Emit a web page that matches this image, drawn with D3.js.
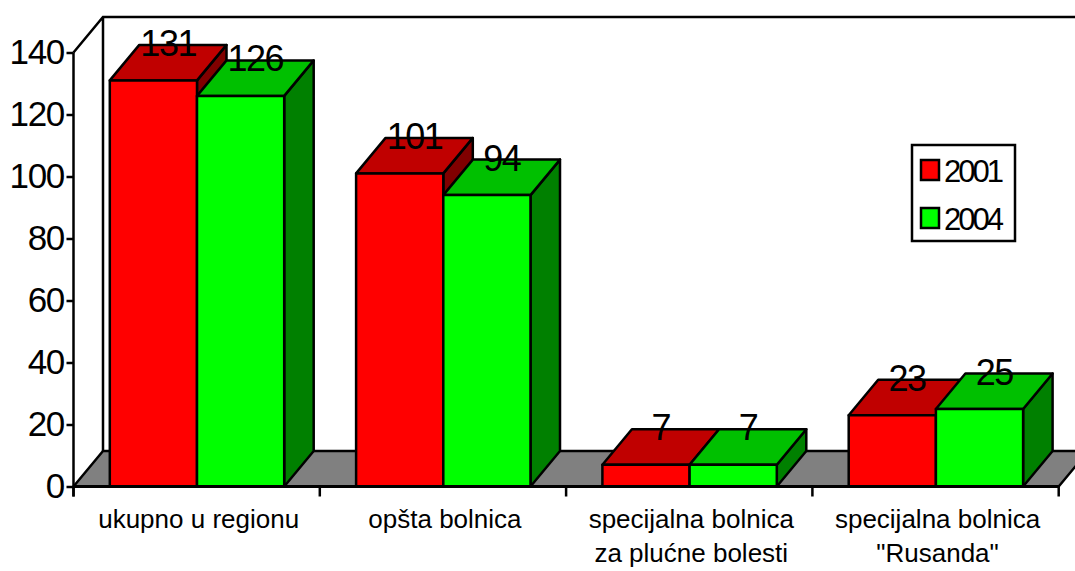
<!DOCTYPE html>
<html>
<head>
<meta charset="utf-8">
<script src="https://cdn.jsdelivr.net/npm/d3@7"></script>
<style>
  html, body { margin: 0; padding: 0; background: #fff; }
  svg { display: block; }
  text { font-family: "Liberation Sans", Arial, sans-serif; fill: #000; }
</style>
</head>
<body>
<svg id="chart" width="1075" height="571"></svg>
<script>
// Category labels (one entry per text line)
const categories = [
  ["ukupno u regionu"],
  ["opšta bolnica"],
  ["specijalna bolnica", "za plućne bolesti"],
  ["specijalna bolnica", "\"Rusanda\""]
];
const seriesNames = ["2001", "2004"];
const values2001 = [131, 101, 7, 23];
const values2004 = [126, 94, 7, 25];
const yTicks = [0, 20, 40, 60, 80, 100, 120, 140];

// Face colours per series: front, top, side
const palette = {
  "2001": { front: "#ff0000", top: "#c00000", side: "#800000" },
  "2004": { front: "#00ff00", top: "#00c000", side: "#008000" }
};

const svg = d3.select("#chart");
const W = 1075, H = 571;

// Oblique depth offset of the 3D projection
const DX = 29.5, DY = -35.5;

const catKeys = categories.map((c, i) => i);
const x = d3.scaleBand().domain(catKeys).range([73.5, 1058.7]).paddingInner(0).paddingOuter(0);
const xs = d3.scaleBand().domain(seriesNames).range([36.3, 36.3 + 174.4]).paddingInner(0).paddingOuter(0);
const y = d3.scaleLinear().domain([0, 140]).range([486.5, 52.5]);

const x0 = x.range()[0], x1 = x.range()[1];
const y0 = y(0), yTop = y(140);

const walls = svg.append("g");
// Floor
walls.append("path")
  .attr("d", `M${x0},${y0} L${x1},${y0} L${x1 + DX},${y0 + DY} L${x0 + DX},${y0 + DY} Z`)
  .attr("fill", "#808080").attr("stroke", "#000").attr("stroke-width", 2.5)
  .attr("stroke-linejoin", "round");
// Back wall outline and left wall top edge
walls.append("path")
  .attr("d", `M${x0},${yTop} L${x0 + DX},${yTop + DY} L${W + 40},${yTop + DY} M${x0 + DX},${yTop + DY} L${x0 + DX},${y0 + DY}`)
  .attr("fill", "none").attr("stroke", "#000").attr("stroke-width", 2.5);

// Bars
const data = catKeys.map(i => ({
  i,
  bars: [
    { s: "2001", v: values2001[i] },
    { s: "2004", v: values2004[i] }
  ]
}));

const barsG = svg.append("g");
const labelItems = [];
data.forEach(d => {
  d.bars.forEach(b => {
    const bx = x(d.i) + xs(b.s);
    const bw = xs.bandwidth();
    const by = y(b.v);
    const c = palette[b.s];
    const g = barsG.append("g").attr("stroke", "#000").attr("stroke-width", 2.5).attr("stroke-linejoin", "round");
    // side face
    g.append("path")
      .attr("d", `M${bx + bw},${y0} L${bx + bw + DX},${y0 + DY} L${bx + bw + DX},${by + DY} L${bx + bw},${by} Z`)
      .attr("fill", c.side);
    // top face
    g.append("path")
      .attr("d", `M${bx},${by} L${bx + DX},${by + DY} L${bx + bw + DX},${by + DY} L${bx + bw},${by} Z`)
      .attr("fill", c.top);
    // front face
    g.append("rect")
      .attr("x", bx).attr("y", by).attr("width", bw).attr("height", y0 - by)
      .attr("fill", c.front);
    labelItems.push({ x: bx + bw / 2 + DX / 2, y: by + DY + 11, v: b.v });
  });
});

// Value axis
const yAxis = svg.append("g")
  .attr("transform", `translate(${x0},0)`)
  .call(d3.axisLeft(y).tickValues(yTicks).tickSize(7).tickPadding(2.5).tickFormat(d3.format("d")));
yAxis.select(".domain").attr("d", `M0,${yTop}V${y0 + 10}`).attr("stroke", "#000").attr("stroke-width", 2.5);
yAxis.selectAll(".tick line").attr("stroke", "#000").attr("stroke-width", 2.5);
yAxis.selectAll(".tick text")
  .attr("font-size", 35).attr("letter-spacing", -1.3)
  .style("font-family", "'Liberation Sans', Arial, sans-serif").attr("fill", "#000");

// Category axis: baseline and boundary ticks
const xAxisG = svg.append("g");
xAxisG.append("line")
  .attr("x1", x0).attr("x2", x1).attr("y1", y0).attr("y2", y0)
  .attr("stroke", "#000").attr("stroke-width", 3);
const boundaries = catKeys.map(k => x(k)).concat([x1]);
xAxisG.selectAll("line.tk").data(boundaries).join("line")
  .attr("class", "tk")
  .attr("x1", d => d).attr("x2", d => d)
  .attr("y1", y0).attr("y2", y0 + 10)
  .attr("stroke", "#000").attr("stroke-width", 2.5);

const catText = xAxisG.selectAll("text.cat").data(catKeys).join("text")
  .attr("class", "cat")
  .attr("text-anchor", "middle")
  .attr("font-size", 26)
  .attr("x", k => x(k) + x.bandwidth() / 2 + 2)
  .attr("y", 528);
catText.selectAll("tspan").data(k => categories[k]).join("tspan")
  .attr("x", function () { return d3.select(this.parentNode).attr("x"); })
  .attr("dy", (d, j) => j === 0 ? 0 : 34)
  .text(d => d);

// Value labels
svg.append("g").selectAll("text").data(labelItems).join("text")
  .attr("x", d => d.x).attr("y", d => d.y)
  .attr("text-anchor", "middle")
  .attr("font-size", 36).attr("letter-spacing", -1.5)
  .text(d => d.v);

// Legend
const legend = svg.append("g");
legend.append("rect")
  .attr("x", 912).attr("y", 145).attr("width", 103).attr("height", 96)
  .attr("fill", "#fff").attr("stroke", "#000").attr("stroke-width", 2.5);
const legY = d3.scalePoint().domain(seriesNames).range([170, 218]);
seriesNames.forEach(s => {
  legend.append("rect")
    .attr("x", 921).attr("y", legY(s) - 10).attr("width", 18).attr("height", 20)
    .attr("fill", palette[s].front).attr("stroke", "#000").attr("stroke-width", 2.5);
  legend.append("text")
    .attr("x", 944).attr("y", legY(s) + 11.5)
    .attr("font-size", 31).attr("letter-spacing", -3)
    .text(s);
});
</script>
</body>
</html>
